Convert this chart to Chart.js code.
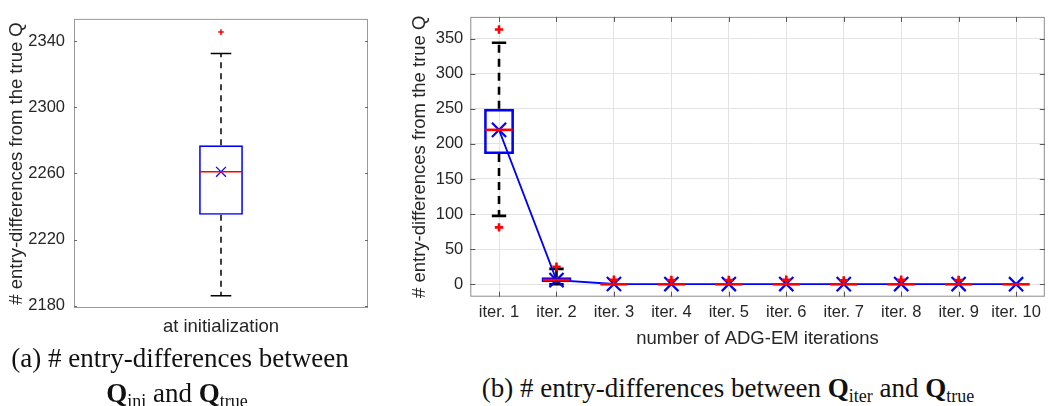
<!DOCTYPE html>
<html><head><meta charset="utf-8">
<script src="https://cdn.jsdelivr.net/npm/chart.js@4"></script>
<style>
html,body{margin:0;padding:0;background:#fff;width:1057px;height:406px;overflow:hidden;position:relative;}
#wrapA{position:absolute;left:0;top:0;width:380px;height:345px;}
#wrapB{position:absolute;left:390px;top:0;width:667px;height:360px;}
.cap{position:absolute;font-family:"Liberation Serif","Times New Roman",serif;font-size:27px;color:#111;white-space:nowrap;line-height:30px;text-align:center;}
.sub{font-size:18px;position:relative;top:5px;font-weight:normal}
</style></head>
<body>
<div id="wrapA"><canvas id="ca"></canvas></div>
<div id="wrapB"><canvas id="cb"></canvas></div>
<div class="cap" style="left:0;width:360px;top:343px">(a) # entry-differences between</div>
<div class="cap" style="left:0;width:354px;top:378px"><b>Q</b><span class="sub">ini</span> and <b>Q</b><span class="sub">true</span></div>
<div class="cap" style="left:428px;width:600px;top:373px">(b) # entry-differences between <b>Q</b><span class="sub">iter</span> and <b>Q</b><span class="sub">true</span></div>
<script>
// ---------- DATA ----------
const leftCategories = ['at initialization'];
const leftQ1 = [2235];
const leftMedian = [2261];
const leftQ3 = [2277];
const leftWhiskerLow = [2186];
const leftWhiskerHigh = [2332.5];
const leftMean = [2261];
const leftOutliers = [[2345.5]];
const leftYTicks = [2180, 2220, 2260, 2300, 2340];

const iterCategories = ['iter. 1','iter. 2','iter. 3','iter. 4','iter. 5','iter. 6','iter. 7','iter. 8','iter. 9','iter. 10'];
const iterQ1 = [185.5, 3, 0, 0, 0, 0, 0, 0, 0, 0];
const iterMedian = [220, 6, 0, 0, 0, 0, 0, 0, 0, 0];
const iterQ3 = [250, 10, 0, 0, 0, 0, 0, 0, 0, 0];
const iterWhiskerLow = [97.5, 0, 0, 0, 0, 0, 0, 0, 0, 0];
const iterWhiskerHigh = [344, 22, 0, 0, 0, 0, 0, 0, 0, 0];
const iterMean = [220, 6, 0.4, 0.3, 0.3, 0.3, 0.2, 0.3, 0.3, 0.1];
const iterOutliers = [[363, 81], [25], [6.5], [6], [6], [6.5], [5.5], [6.5], [6], []];
const iterYTicks = [0, 50, 100, 150, 200, 250, 300, 350];

// ---------- helpers ----------
const AX_FONT = '"Liberation Sans", Arial, Helvetica, sans-serif';
const TXT = '#262626';

function makeBoxPlugin(d, st) {
  return {
    id: 'boxplot_' + st.name,
    beforeDatasetsDraw(chart) {
      const ctx = chart.ctx, xs = chart.scales.x, ys = chart.scales.y, ca = chart.chartArea;
      const catW = xs.getPixelForValue(1) - xs.getPixelForValue(0) || (ca.right - ca.left);
      ctx.save();
      ctx.strokeStyle = st.frame; ctx.lineWidth = 1;
      ctx.strokeRect(ca.left + 0.5, ca.top + 0.5, ca.right - ca.left - 1, ca.bottom - ca.top - 1);
      ctx.strokeStyle = st.tickColor; ctx.beginPath();
      ys.ticks.forEach(t => {
        const y = Math.round(ys.getPixelForValue(t.value)) + 0.5;
        ctx.moveTo(ca.left, y); ctx.lineTo(ca.left + st.tickLen, y);
        ctx.moveTo(ca.right, y); ctx.lineTo(ca.right - st.tickLen, y);
      });
      if (st.xTicks) {
        d.cats.forEach((c, i) => {
          const x = Math.round(xs.getPixelForValue(i)) + 0.5;
          ctx.moveTo(x, ca.bottom); ctx.lineTo(x, ca.bottom - st.tickLen);
          ctx.moveTo(x, ca.top); ctx.lineTo(x, ca.top + st.tickLen);
        });
      }
      ctx.stroke();
      d.cats.forEach((c, i) => {
        const x = xs.getPixelForValue(i);
        const yq1 = ys.getPixelForValue(d.q1[i]), yq3 = ys.getPixelForValue(d.q3[i]);
        const ylo = ys.getPixelForValue(d.wLow[i]), yhi = ys.getPixelForValue(d.wHigh[i]);
        ctx.strokeStyle = '#000'; ctx.lineWidth = st.whiskerW;
        ctx.setLineDash(st.dash);
        ctx.beginPath();
        if (yhi < yq3) { ctx.moveTo(x, yq3); ctx.lineTo(x, yhi); }
        if (ylo > yq1) { ctx.moveTo(x, yq1); ctx.lineTo(x, ylo); }
        ctx.stroke();
        ctx.setLineDash([]);
        const cw = catW * st.capFrac / 2;
        ctx.beginPath();
        if (d.wHigh[i] !== d.q3[i]) { ctx.moveTo(x - cw, yhi); ctx.lineTo(x + cw, yhi); }
        if (d.wLow[i] !== d.q1[i]) { ctx.moveTo(x - cw, ylo); ctx.lineTo(x + cw, ylo); }
        ctx.stroke();
      });
      ctx.restore();
    },
    afterDatasetsDraw(chart) {
      const ctx = chart.ctx, xs = chart.scales.x, ys = chart.scales.y, ca = chart.chartArea;
      const catW = xs.getPixelForValue(1) - xs.getPixelForValue(0) || (ca.right - ca.left);
      ctx.save();
      d.cats.forEach((c, i) => {
        const x = xs.getPixelForValue(i);
        const bw = catW * st.boxFrac / 2 - st.boxW / 2;
        const ym = ys.getPixelForValue(d.med[i]);
        ctx.strokeStyle = '#ff0000'; ctx.lineWidth = st.medW;
        ctx.beginPath(); ctx.moveTo(x - bw, ym); ctx.lineTo(x + bw, ym); ctx.stroke();
        ctx.lineWidth = st.outW;
        d.out[i].forEach(v => {
          const y = ys.getPixelForValue(v), s = st.outS;
          ctx.beginPath(); ctx.moveTo(x - s, y); ctx.lineTo(x + s, y);
          ctx.moveTo(x, y - s); ctx.lineTo(x, y + s); ctx.stroke();
        });
      });
      ctx.restore();
    }
  };
}

// ---------- LEFT CHART ----------
new Chart(document.getElementById('ca'), {
  data: {
    labels: leftCategories,
    datasets: [
      { type: 'line', data: leftMean, showLine: false, order: 0,
        pointStyle: 'crossRot', pointRadius: 7, pointBorderWidth: 1.2,
        pointBorderColor: '#0000ff', borderColor: '#0000ff', pointBackgroundColor: '#0000ff' },
      { type: 'bar', data: leftQ1.map((q, i) => [q, leftQ3[i]]), order: 1,
        backgroundColor: 'rgba(0,0,0,0)', borderColor: '#0000ff', borderWidth: 1.6, borderSkipped: false,
        barPercentage: 0.149, categoryPercentage: 1 }
    ]
  },
  options: {
    responsive: true, maintainAspectRatio: false, animation: false,
    layout: { padding: { top: 14, right: 12, left: 0, bottom: 0 } },
    plugins: { legend: { display: false }, tooltip: { enabled: false } },
    scales: {
      x: { type: 'category', offset: true,
        grid: { display: false, drawTicks: false }, border: { display: false },
        ticks: { padding: 8, color: TXT, font: { family: AX_FONT, size: 18.5 }, maxRotation: 0 },
        afterFit(s) { s.height = 345 - 308; } },
      y: { type: 'linear', min: 2178.6, max: 2353.5,
        afterBuildTicks(s) { s.ticks = leftYTicks.map(v => ({ value: v })); },
        grid: { display: false, drawTicks: false }, border: { display: false },
        ticks: { padding: 9, color: TXT, font: { family: AX_FONT, size: 16.5 }, callback: v => String(v) },
        title: { display: true, text: '# entry-differences from the true Q', color: TXT,
          font: { family: AX_FONT, size: 18.5 }, padding: { top: 6, bottom: 0 } },
        afterFit(s) { s.width = 74; } }
    }
  },
  plugins: [makeBoxPlugin(
    { cats: leftCategories, q1: leftQ1, q3: leftQ3, med: leftMedian, wLow: leftWhiskerLow, wHigh: leftWhiskerHigh, out: leftOutliers },
    { name: 'a', frame: '#9a9a9a', tickColor: '#6a6a6a', tickLen: 3, xTicks: false, whiskerW: 1.5, dash: [6, 5],
      capFrac: 0.07, boxFrac: 0.149, boxW: 1.6, medW: 1.6, outW: 1.5, outS: 2.8 })]
});

// ---------- RIGHT CHART ----------
new Chart(document.getElementById('cb'), {
  data: {
    labels: iterCategories,
    datasets: [
      { type: 'line', data: iterMean, order: 0, borderColor: '#0000ff', borderWidth: 1.8,
        pointStyle: 'crossRot', pointRadius: 10, pointBorderWidth: 2.2,
        pointBorderColor: '#0000ff', pointBackgroundColor: '#0000ff', tension: 0 },
      { type: 'bar', data: iterQ1.map((q, i) => [q, iterQ3[i]]), order: 1,
        backgroundColor: 'rgba(0,0,0,0)', borderColor: '#0000ff', borderWidth: 2.6, borderSkipped: false,
        barPercentage: 0.52, categoryPercentage: 1 }
    ]
  },
  options: {
    responsive: true, maintainAspectRatio: false, animation: false,
    layout: { padding: { top: 4.7, right: 2.7, left: 0, bottom: 0 } },
    plugins: { legend: { display: false }, tooltip: { enabled: false } },
    scales: {
      x: { type: 'category', offset: true,
        grid: { display: true, offset: false, drawTicks: false, color: '#e3e3e3', lineWidth: 1 },
        border: { display: false },
        ticks: { padding: 6, color: TXT, font: { family: AX_FONT, size: 16.5 }, maxRotation: 0, autoSkip: false },
        title: { display: true, text: 'number of ADG-EM iterations', color: TXT,
          font: { family: AX_FONT, size: 18.5 }, padding: { top: 0, bottom: 10 } },
        afterFit(s) { s.height = 360 - 296.7; } },
      y: { type: 'linear', min: -17.7, max: 380.9,
        afterBuildTicks(s) { s.ticks = iterYTicks.map(v => ({ value: v })); },
        grid: { display: true, drawTicks: false, color: '#e3e3e3', lineWidth: 1 }, border: { display: false },
        ticks: { padding: 7, color: TXT, font: { family: AX_FONT, size: 16.5 }, callback: v => String(v) },
        title: { display: true, text: '# entry-differences from the true Q', color: TXT,
          font: { family: AX_FONT, size: 18.5 }, padding: { top: 18.6, bottom: 0 } },
        afterFit(s) { s.width = 80.3; } }
    }
  },
  plugins: [makeBoxPlugin(
    { cats: iterCategories, q1: iterQ1, q3: iterQ3, med: iterMedian, wLow: iterWhiskerLow, wHigh: iterWhiskerHigh, out: iterOutliers },
    { name: 'b', frame: '#8c8c8c', tickColor: '#555', tickLen: 5, xTicks: true, whiskerW: 2.6, dash: [8, 6],
      capFrac: 0.25, boxFrac: 0.52, boxW: 2.6, medW: 2.6, outW: 2.6, outS: 4.2 })]
});
</script>
</body></html>
